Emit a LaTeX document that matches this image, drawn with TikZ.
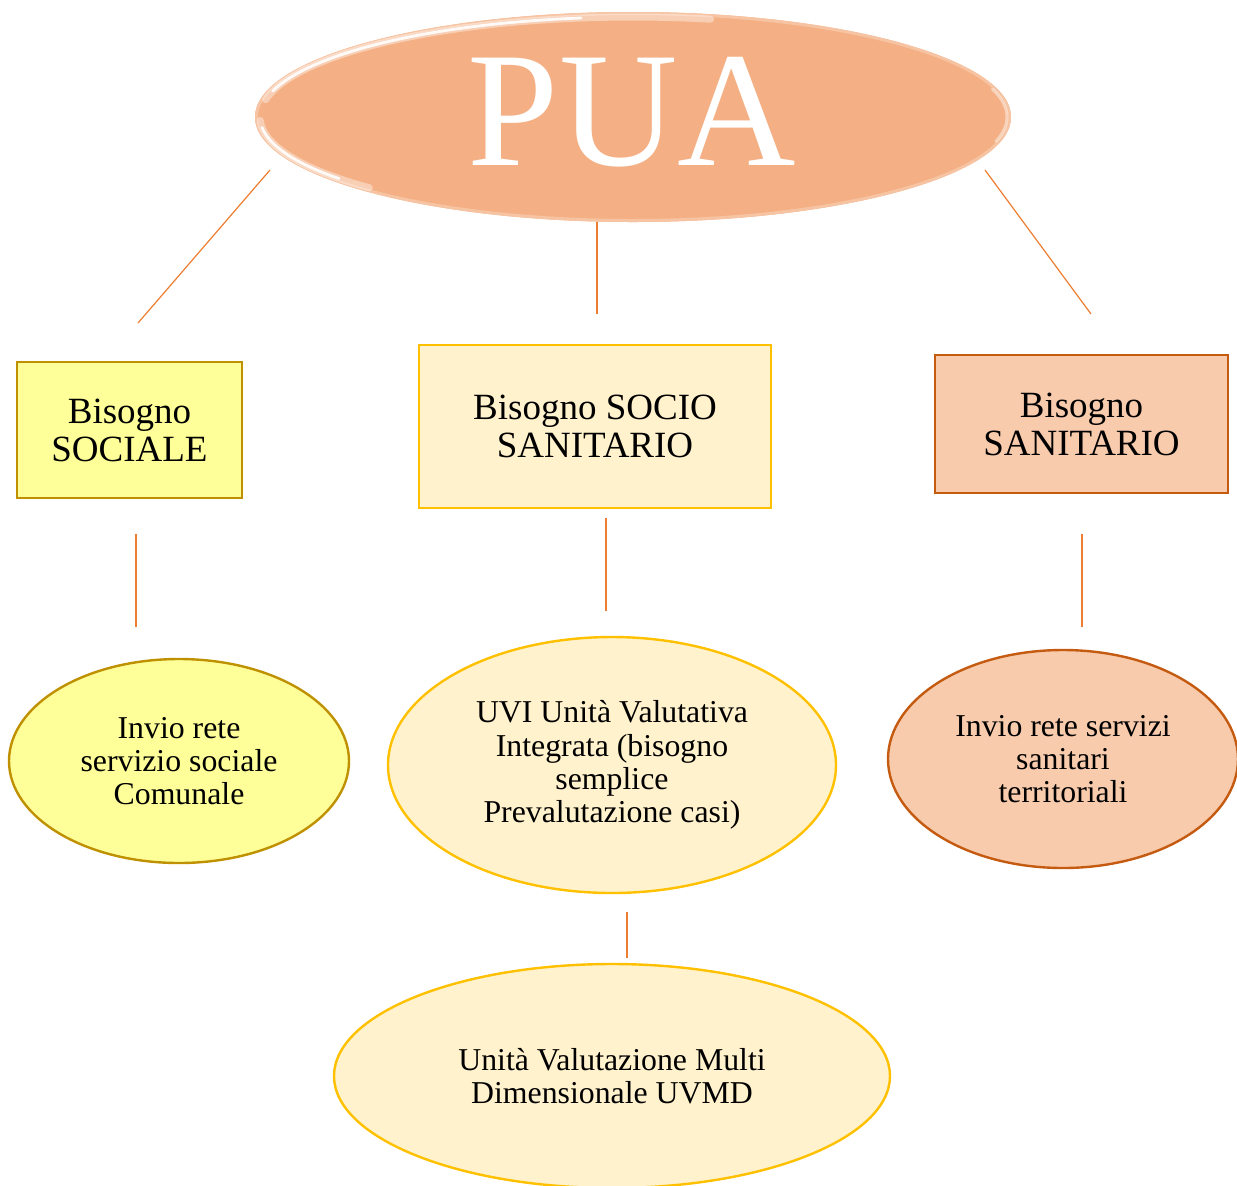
\documentclass[tikz,border=0pt]{standalone}
\usepackage{fontspec}
\setmainfont{Liberation Serif}
\usetikzlibrary{shapes.geometric}
\definecolor{puafill}{HTML}{F4B084}
\definecolor{conn}{HTML}{ED7D31}
\definecolor{socfill}{HTML}{FFFF99}
\definecolor{socdraw}{HTML}{BF9000}
\definecolor{midfill}{HTML}{FFF2CC}
\definecolor{middraw}{HTML}{FFC000}
\definecolor{sanfill}{HTML}{F8CBAD}
\definecolor{sandraw}{HTML}{C55A11}
\tikzset{
  link/.style={draw=conn, line width=0.6pt},
  boxtext/.style={align=center, font=\fontsize{18.5}{19}\selectfont, inner sep=0pt},
  elltext/.style={ellipse, align=center, font=\fontsize{15.9}{16.6}\selectfont, inner sep=0pt, line width=1.2pt},
  socstyle/.style={fill=socfill, draw=socdraw},
  midstyle/.style={fill=midfill, draw=middraw},
  sanstyle/.style={fill=sanfill, draw=sandraw},
  glow/.style={white, line cap=round},
}
\begin{document}
\begin{tikzpicture}[x=0.5pt, y=-0.5pt]
\useasboundingbox (0,0) rectangle (1237,1185);
\clip (0,0) rectangle (1237,1185);

% PUA ellipse
\node[ellipse, fill=puafill, minimum width=378pt, minimum height=105pt, inner sep=0pt] (pua) at (633,117) {};
\begin{scope}
  \clip (633,117) ellipse (378 and 105);
  \draw[puafill!75!white, line width=2pt] (633,117) ellipse (377 and 104);
  % upper-left glow
  \draw[glow, opacity=0.4, line width=3.5pt] ([shift={(190:373 and 100)}]633,117) arc (190:282:373 and 100);
  \draw[glow, opacity=0.9, line width=1.4pt] ([shift={(195:373 and 100)}]633,117) arc (195:262:373 and 100);
  % lower-left glow
  \draw[glow, opacity=0.4, line width=3.5pt] ([shift={(135:373 and 100)}]633,117) arc (135:178:373 and 100);
  \draw[glow, opacity=0.9, line width=1.4pt] ([shift={(142:373 and 100)}]633,117) arc (142:174:373 and 100);
  % right edge glow
  \draw[glow, opacity=0.45, line width=1.5pt] ([shift={(-16:374 and 101)}]633,117) arc (-16:14:374 and 101);
\end{scope}
\node[text=white, font=\fontsize{82}{82}\selectfont, inner sep=0pt] (puatext) at (632,112) {PUA};

% boxes
\node[boxtext, socstyle, line width=1.2pt, minimum width=112.5pt, minimum height=68pt] (soc) at (129.5,430) {Bisogno\\SOCIALE};
\node[boxtext, midstyle, line width=1.2pt, minimum width=176pt, minimum height=81.5pt] (mid) at (595,426.5) {Bisogno SOCIO\\SANITARIO};
\node[boxtext, sanstyle, line width=1.2pt, minimum width=146.5pt, minimum height=69pt] (san) at (1081.5,424) {Bisogno\\SANITARIO};

% ellipses
\node[elltext, socstyle, minimum width=170pt, minimum height=102pt] (socE) at (179,761) {Invio rete\\servizio sociale\\Comunale};
\node[elltext, midstyle, minimum width=224pt, minimum height=128pt] (midE) at (612,765) {UVI Unità Valutativa\\Integrata (bisogno\\semplice\\Prevalutazione casi)};
\node[elltext, sanstyle, minimum width=175pt, minimum height=109pt] (sanE) at (1063,759) {Invio rete servizi\\sanitari\\territoriali};
\node[elltext, midstyle, minimum width=278pt, minimum height=112pt] (uvmd) at (612,1076) {Unità Valutazione Multi\\Dimensionale UVMD};

% connector end points
\coordinate (a1) at (270,170); \coordinate (a2) at (138,323);
\coordinate (b1) at (597,222); \coordinate (b2) at (597,314);
\coordinate (c1) at (985,170); \coordinate (c2) at (1091,314);
\coordinate (d1) at (136,534); \coordinate (d2) at (136,627);
\coordinate (e1) at (606,518); \coordinate (e2) at (606,611);
\coordinate (f1) at (1082,534); \coordinate (f2) at (1082,627);
\coordinate (g1) at (627,912); \coordinate (g2) at (627,958);

\draw[link] (a1) -- (a2);
\draw[link] (b1) -- (b2);
\draw[link] (c1) -- (c2);
\draw[link] (d1) -- (d2);
\draw[link] (e1) -- (e2);
\draw[link] (f1) -- (f2);
\draw[link] (g1) -- (g2);
\end{tikzpicture}
\end{document}
